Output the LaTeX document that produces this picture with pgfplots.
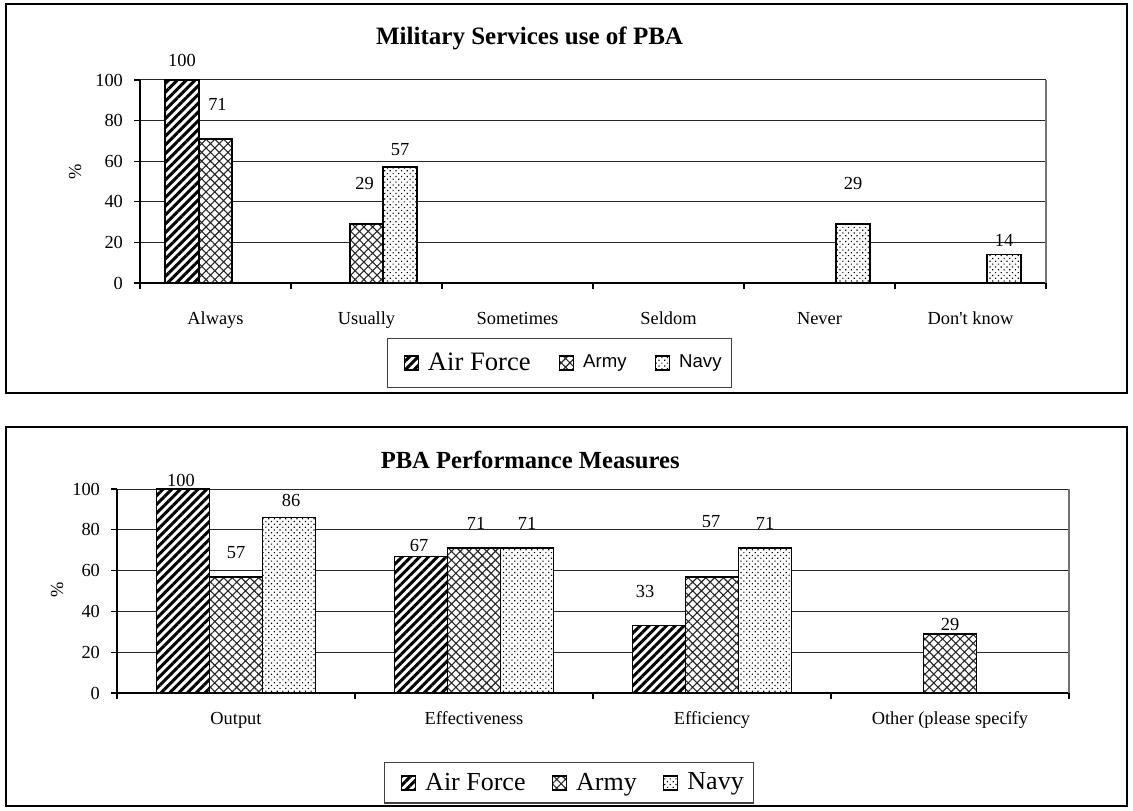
\documentclass[border=0pt]{standalone}
\usepackage{fontspec}
\setmainfont{Liberation Serif}
\setsansfont{Liberation Sans}
\usepackage{pgfplots}
\pgfplotsset{compat=1.18}
\usepackage{pgfplotstable}
\usetikzlibrary{patterns.meta}

\pgfplotstableread{
x y dx dy
0 100 0 10
}\topAF
\pgfplotstableread{
x y dx dy
0 71 1 17
1 29 -1 20.5
}\topArmy
\pgfplotstableread{
x y dx dy
1 57 0 9
4 29 0 20.5
5 14 0 7
}\topNavy

\pgfplotstableread{
x y dx dy
0 100 -1 4.5
1 67 -1 5.5
2 33 -7 17
}\botAF
\pgfplotstableread{
x y dx dy
0 57 0 12
1 71 1 12.5
2 57 -0.5 27.5
3 29 0 4.5
}\botArmy
\pgfplotstableread{
x y dx dy
0 86 1 8.5
1 71 0 12.5
2 71 0 12.5
}\botNavy

\pgfplotsset{
 panel/.style={
  scale only axis, anchor=south west,
  ybar, ymin=0, ymax=100, ytick={0,20,...,100},
  axis x line*=bottom, axis y line*=left,
  axis line style={black, line width=0.6pt},
  tick align=outside, major tick length=3pt, minor tick length=3pt,
  tick style={black, line width=0.6pt},
  major x tick style={draw=none},
  ymajorgrids, grid style={black!85, line width=0.5pt},
  /pgf/number format/assume math mode=true,
  tick label style={font=\fontsize{9.2}{11}\selectfont},
  yticklabel style={xshift=-2pt},
  area legend,
  legend image code/.code={\draw[##1, line width=0.6pt] (0pt,-3.5pt) rectangle (7pt,3.5pt); \path (0pt,0pt) (9.5pt,0pt);},
  legend columns=3,
  legend cell align=left,
  nodes near coords, point meta=explicit,
  visualization depends on={\thisrow{dx} \as \myDX},
  visualization depends on={\thisrow{dy} \as \myDY},
  nodes near coords style={font=\fontsize{9.2}{11}\selectfont, anchor=center, xshift=\myDX pt, yshift=\myDY pt},
  clip=false,
  ylabel={\%},
 },
 af/.style={draw=black, line width=0.8pt, fill=white, postaction={pattern={Lines[angle=45,distance=3.1pt,line width=1.5pt]}, pattern color=black},
   legend image code/.code={\path (-5pt,0pt) (9.5pt,0pt); \draw[##1, line width=0.6pt] (0pt,-3.5pt) rectangle (7pt,3.5pt);}},
 army/.style={draw=black, line width=0.8pt, fill=white, postaction={pattern={Hatch[angle=45,distance=3.1pt,line width=0.55pt]}, pattern color=black!85}},
 navy/.style={draw=black, line width=0.8pt, fill=white, postaction={pattern={Dots[angle=45,distance=2pt,radius=0.42pt]}, pattern color=black}},
}

\begin{document}
\begin{tikzpicture}
\useasboundingbox (0,0) rectangle (566.5pt,405pt);
\fill[white] (0,0) rectangle (566.5pt,405pt);
\draw[line width=0.9pt] (3pt,403pt) rectangle (563.5pt,208.5pt);
\draw[line width=0.9pt] (3pt,191.5pt) rectangle (563.5pt,2pt);

\begin{axis}[panel,
  at={(70pt,263.5pt)}, width=453pt, height=101.5pt,
  xmin=-0.5, xmax=5.5,
  xtick={0,...,5},
  xticklabels={Always,Usually,Sometimes,Seldom,Never,Don\textquotesingle t know},
  minor xtick={-0.5,0.5,...,5.5},
  xticklabel style={anchor=base, yshift=-17.5pt},
  bar width=16.75pt,
  title={Military Services use of PBA},
  title style={at={(axis description cs:0.430,1.207)}, anchor=center, yshift=-6pt, font=\bfseries\fontsize{12.5}{14}\selectfont},
  ylabel style={at={(axis description cs:-0.0717,0.547)}, anchor=center, font=\fontsize{9.2}{11}\selectfont},
  legend style={at={(axis description cs:0.463,-0.394)}, anchor=center, draw=black!75, line width=0.6pt,
    inner ysep=5pt, font=\fontsize{13.3}{15}\selectfont,
    /tikz/every even column/.append style={column sep=12pt}},
]
\addplot[af, bar shift=-16.75pt] table[x=x, y=y, meta=y] {\topAF};
\addlegendentry{Air Force}
\addplot[army, bar shift=0pt] table[x=x, y=y, meta=y] {\topArmy};
\addlegendentry{\sffamily\fontsize{9.3}{11}\selectfont Army}
\addplot[navy, bar shift=16.75pt] table[x=x, y=y, meta=y] {\topNavy};
\addlegendentry{\sffamily\fontsize{9.3}{11}\selectfont Navy}
\draw[black!55, line width=0.6pt] (rel axis cs:1,0) -- (rel axis cs:1,1);
\end{axis}

\begin{axis}[panel,
  at={(58.5pt,58.5pt)}, width=476pt, height=102pt,
  xmin=-0.5, xmax=3.5,
  xtick={0,...,3},
  xticklabels={Output,Effectiveness,Efficiency,Other (please specify},
  minor xtick={-0.5,0.5,...,3.5},
  xticklabel style={anchor=base, yshift=-12.5pt},
  bar width=26.5pt,
  title={PBA Performance Measures},
  title style={at={(axis description cs:0.434,1.142)}, anchor=center, yshift=-6pt, font=\bfseries\fontsize{12.3}{14}\selectfont},
  ylabel style={at={(axis description cs:-0.063,0.505)}, anchor=center, font=\fontsize{9.2}{11}\selectfont},
  legend style={at={(axis description cs:0.475,-0.441)}, anchor=center, draw=black!75, line width=0.6pt,
    inner ysep=3pt, font=\fontsize{13}{15}\selectfont,
    /tikz/every even column/.append style={column sep=11pt}},
]
\addplot[af, bar shift=-26.5pt] table[x=x, y=y, meta=y] {\botAF};
\addlegendentry{Air Force}
\addplot[army, bar shift=0pt] table[x=x, y=y, meta=y] {\botArmy};
\addlegendentry{Army}
\addplot[navy, bar shift=26.5pt] table[x=x, y=y, meta=y] {\botNavy};
\addlegendentry{Navy}
\draw[black!55, line width=0.6pt] (rel axis cs:1,0) -- (rel axis cs:1,1);
\end{axis}
\end{tikzpicture}
\end{document}
